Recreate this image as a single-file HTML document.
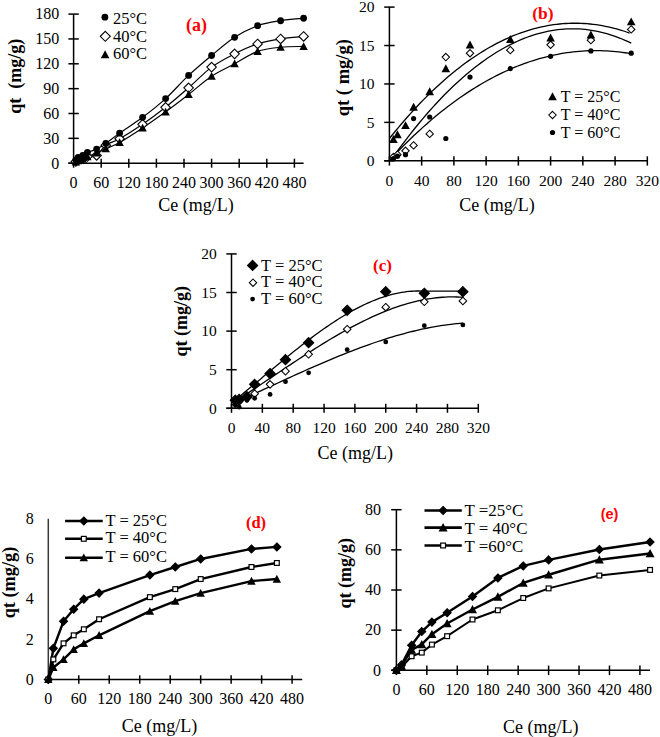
<!DOCTYPE html>
<html><head><meta charset="utf-8"><style>
html,body{margin:0;padding:0;background:#fff;}
body{width:660px;height:737px;overflow:hidden;}
svg{display:block;}
text{font-family:"Liberation Serif", serif;}
</style></head><body>
<svg width="660" height="737" viewBox="0 0 660 737">
<rect width="660" height="737" fill="#fff"/>
<line x1="73.6" y1="14.10" x2="73.6" y2="163.20" stroke="#000" stroke-width="1.5"/>
<line x1="68.40" y1="163.2" x2="303.60" y2="163.2" stroke="#000" stroke-width="1.5"/>
<line x1="73.60" y1="158.70" x2="73.60" y2="167.70" stroke="#000" stroke-width="1.5"/>
<text x="73.60" y="187.60" font-size="16" text-anchor="middle" font-weight="normal" fill="#000" >0</text>
<line x1="101.20" y1="158.70" x2="101.20" y2="167.70" stroke="#000" stroke-width="1.5"/>
<text x="101.20" y="187.60" font-size="16" text-anchor="middle" font-weight="normal" fill="#000" >60</text>
<line x1="128.80" y1="158.70" x2="128.80" y2="167.70" stroke="#000" stroke-width="1.5"/>
<text x="128.80" y="187.60" font-size="16" text-anchor="middle" font-weight="normal" fill="#000" >120</text>
<line x1="156.40" y1="158.70" x2="156.40" y2="167.70" stroke="#000" stroke-width="1.5"/>
<text x="156.40" y="187.60" font-size="16" text-anchor="middle" font-weight="normal" fill="#000" >180</text>
<line x1="184.00" y1="158.70" x2="184.00" y2="167.70" stroke="#000" stroke-width="1.5"/>
<text x="184.00" y="187.60" font-size="16" text-anchor="middle" font-weight="normal" fill="#000" >240</text>
<line x1="211.60" y1="158.70" x2="211.60" y2="167.70" stroke="#000" stroke-width="1.5"/>
<text x="211.60" y="187.60" font-size="16" text-anchor="middle" font-weight="normal" fill="#000" >300</text>
<line x1="239.20" y1="158.70" x2="239.20" y2="167.70" stroke="#000" stroke-width="1.5"/>
<text x="239.20" y="187.60" font-size="16" text-anchor="middle" font-weight="normal" fill="#000" >360</text>
<line x1="266.80" y1="158.70" x2="266.80" y2="167.70" stroke="#000" stroke-width="1.5"/>
<text x="266.80" y="187.60" font-size="16" text-anchor="middle" font-weight="normal" fill="#000" >420</text>
<line x1="294.40" y1="158.70" x2="294.40" y2="167.70" stroke="#000" stroke-width="1.5"/>
<text x="294.40" y="187.60" font-size="16" text-anchor="middle" font-weight="normal" fill="#000" >480</text>
<line x1="68.40" y1="163.20" x2="78.80" y2="163.20" stroke="#000" stroke-width="1.5"/>
<text x="59.20" y="168.50" font-size="16" text-anchor="end" font-weight="normal" fill="#000" >0</text>
<line x1="68.40" y1="138.35" x2="78.80" y2="138.35" stroke="#000" stroke-width="1.5"/>
<text x="59.20" y="143.65" font-size="16" text-anchor="end" font-weight="normal" fill="#000" >30</text>
<line x1="68.40" y1="113.50" x2="78.80" y2="113.50" stroke="#000" stroke-width="1.5"/>
<text x="59.20" y="118.80" font-size="16" text-anchor="end" font-weight="normal" fill="#000" >60</text>
<line x1="68.40" y1="88.65" x2="78.80" y2="88.65" stroke="#000" stroke-width="1.5"/>
<text x="59.20" y="93.95" font-size="16" text-anchor="end" font-weight="normal" fill="#000" >90</text>
<line x1="68.40" y1="63.80" x2="78.80" y2="63.80" stroke="#000" stroke-width="1.5"/>
<text x="59.20" y="69.10" font-size="16" text-anchor="end" font-weight="normal" fill="#000" >120</text>
<line x1="68.40" y1="38.95" x2="78.80" y2="38.95" stroke="#000" stroke-width="1.5"/>
<text x="59.20" y="44.25" font-size="16" text-anchor="end" font-weight="normal" fill="#000" >150</text>
<line x1="68.40" y1="14.10" x2="78.80" y2="14.10" stroke="#000" stroke-width="1.5"/>
<text x="59.20" y="19.40" font-size="16" text-anchor="end" font-weight="normal" fill="#000" >180</text>
<path d="M73.60,163.20 C73.98,162.65 75.13,160.85 75.90,159.89 C76.67,158.92 77.05,158.16 78.20,157.40 C79.35,156.64 81.27,156.16 82.80,155.33 C84.33,154.50 85.10,153.47 87.40,152.43 C89.70,151.40 93.53,150.61 96.60,149.12 C99.67,147.63 101.97,146.15 105.80,143.49 C109.63,140.82 113.47,137.49 119.60,133.13 C125.73,128.77 134.93,123.07 142.60,117.31 C150.27,111.55 157.93,105.58 165.60,98.59 C173.27,91.60 180.93,82.58 188.60,75.40 C196.27,68.22 203.93,61.87 211.60,55.52 C219.27,49.17 226.93,42.26 234.60,37.29 C242.27,32.32 249.93,28.46 257.60,25.70 C265.27,22.94 272.93,21.97 280.60,20.73 C288.27,19.48 299.77,18.66 303.60,18.24" fill="none" stroke="#000" stroke-width="1.2"/>
<path d="M73.60,163.20 C73.98,162.92 75.13,162.10 75.90,161.54 C76.67,160.99 77.05,160.44 78.20,159.89 C79.35,159.33 81.27,158.78 82.80,158.23 C84.33,157.68 85.10,157.03 87.40,156.57 C89.70,156.12 93.53,157.39 96.60,155.50 C99.67,153.61 101.97,148.01 105.80,145.23 C109.63,142.44 113.47,142.26 119.60,138.76 C125.73,135.27 134.93,129.51 142.60,124.27 C150.27,119.02 157.93,113.36 165.60,107.29 C173.27,101.21 180.93,94.52 188.60,87.82 C196.27,81.13 203.93,72.77 211.60,67.11 C219.27,61.45 226.93,57.73 234.60,53.86 C242.27,49.99 249.93,46.40 257.60,43.92 C265.27,41.43 272.93,40.19 280.60,38.95 C288.27,37.71 299.77,36.88 303.60,36.46" fill="none" stroke="#000" stroke-width="1.2"/>
<path d="M73.60,163.20 C73.98,162.99 75.13,162.37 75.90,161.96 C76.67,161.54 77.05,161.20 78.20,160.71 C79.35,160.23 81.27,159.75 82.80,159.06 C84.33,158.37 85.10,157.58 87.40,156.57 C89.70,155.57 93.53,154.31 96.60,153.01 C99.67,151.71 101.97,150.54 105.80,148.79 C109.63,147.03 113.47,145.96 119.60,142.49 C125.73,139.03 134.93,133.10 142.60,128.00 C150.27,122.89 157.93,117.43 165.60,111.84 C173.27,106.25 180.93,100.38 188.60,94.45 C196.27,88.51 203.93,81.33 211.60,76.22 C219.27,71.12 226.93,67.94 234.60,63.80 C242.27,59.66 249.93,54.14 257.60,51.37 C265.27,48.61 272.93,48.06 280.60,47.23 C288.27,46.40 299.77,46.54 303.60,46.40" fill="none" stroke="#000" stroke-width="1.2"/>
<path d="M75.90,156.79 L80.65,161.54 L75.90,166.29 L71.15,161.54 Z" fill="#fff" stroke="#000" stroke-width="1.1"/>
<path d="M78.20,155.14 L82.95,159.89 L78.20,164.64 L73.45,159.89 Z" fill="#fff" stroke="#000" stroke-width="1.1"/>
<path d="M82.80,153.48 L87.55,158.23 L82.80,162.98 L78.05,158.23 Z" fill="#fff" stroke="#000" stroke-width="1.1"/>
<path d="M87.40,151.82 L92.15,156.57 L87.40,161.32 L82.65,156.57 Z" fill="#fff" stroke="#000" stroke-width="1.1"/>
<path d="M96.60,150.75 L101.35,155.50 L96.60,160.25 L91.85,155.50 Z" fill="#fff" stroke="#000" stroke-width="1.1"/>
<path d="M105.80,140.48 L110.55,145.23 L105.80,149.98 L101.05,145.23 Z" fill="#fff" stroke="#000" stroke-width="1.1"/>
<path d="M119.60,134.01 L124.35,138.76 L119.60,143.51 L114.85,138.76 Z" fill="#fff" stroke="#000" stroke-width="1.1"/>
<path d="M142.60,119.52 L147.35,124.27 L142.60,129.02 L137.85,124.27 Z" fill="#fff" stroke="#000" stroke-width="1.1"/>
<path d="M165.60,102.54 L170.35,107.29 L165.60,112.04 L160.85,107.29 Z" fill="#fff" stroke="#000" stroke-width="1.1"/>
<path d="M188.60,83.07 L193.35,87.82 L188.60,92.57 L183.85,87.82 Z" fill="#fff" stroke="#000" stroke-width="1.1"/>
<path d="M211.60,62.36 L216.35,67.11 L211.60,71.86 L206.85,67.11 Z" fill="#fff" stroke="#000" stroke-width="1.1"/>
<path d="M234.60,49.11 L239.35,53.86 L234.60,58.61 L229.85,53.86 Z" fill="#fff" stroke="#000" stroke-width="1.1"/>
<path d="M257.60,39.17 L262.35,43.92 L257.60,48.67 L252.85,43.92 Z" fill="#fff" stroke="#000" stroke-width="1.1"/>
<path d="M280.60,34.20 L285.35,38.95 L280.60,43.70 L275.85,38.95 Z" fill="#fff" stroke="#000" stroke-width="1.1"/>
<path d="M303.60,31.71 L308.35,36.46 L303.60,41.21 L298.85,36.46 Z" fill="#fff" stroke="#000" stroke-width="1.1"/>
<path d="M75.90,157.76 L80.10,165.53 L71.70,165.53 Z" fill="#000"/>
<path d="M78.20,156.51 L82.40,164.28 L74.00,164.28 Z" fill="#000"/>
<path d="M82.80,154.86 L87.00,162.63 L78.60,162.63 Z" fill="#000"/>
<path d="M87.40,152.37 L91.60,160.14 L83.20,160.14 Z" fill="#000"/>
<path d="M96.60,148.81 L100.80,156.58 L92.40,156.58 Z" fill="#000"/>
<path d="M105.80,144.59 L110.00,152.36 L101.60,152.36 Z" fill="#000"/>
<path d="M119.60,138.29 L123.80,146.06 L115.40,146.06 Z" fill="#000"/>
<path d="M142.60,123.80 L146.80,131.57 L138.40,131.57 Z" fill="#000"/>
<path d="M165.60,107.64 L169.80,115.41 L161.40,115.41 Z" fill="#000"/>
<path d="M188.60,90.25 L192.80,98.02 L184.40,98.02 Z" fill="#000"/>
<path d="M211.60,72.02 L215.80,79.79 L207.40,79.79 Z" fill="#000"/>
<path d="M234.60,59.60 L238.80,67.37 L230.40,67.37 Z" fill="#000"/>
<path d="M257.60,47.17 L261.80,54.94 L253.40,54.94 Z" fill="#000"/>
<path d="M280.60,43.03 L284.80,50.80 L276.40,50.80 Z" fill="#000"/>
<path d="M303.60,42.20 L307.80,49.97 L299.40,49.97 Z" fill="#000"/>
<circle cx="75.90" cy="159.89" r="3.40" fill="#000"/>
<circle cx="78.20" cy="157.40" r="3.40" fill="#000"/>
<circle cx="82.80" cy="155.33" r="3.40" fill="#000"/>
<circle cx="87.40" cy="152.43" r="3.40" fill="#000"/>
<circle cx="96.60" cy="149.12" r="3.40" fill="#000"/>
<circle cx="105.80" cy="143.49" r="3.40" fill="#000"/>
<circle cx="119.60" cy="133.13" r="3.40" fill="#000"/>
<circle cx="142.60" cy="117.31" r="3.40" fill="#000"/>
<circle cx="165.60" cy="98.59" r="3.40" fill="#000"/>
<circle cx="188.60" cy="75.40" r="3.40" fill="#000"/>
<circle cx="211.60" cy="55.52" r="3.40" fill="#000"/>
<circle cx="234.60" cy="37.29" r="3.40" fill="#000"/>
<circle cx="257.60" cy="25.70" r="3.40" fill="#000"/>
<circle cx="280.60" cy="20.73" r="3.40" fill="#000"/>
<circle cx="303.60" cy="18.24" r="3.40" fill="#000"/>
<circle cx="104.90" cy="17.20" r="3.40" fill="#000"/>
<path d="M105.30,31.30 L110.30,36.30 L105.30,41.30 L100.30,36.30 Z" fill="#fff" stroke="#000" stroke-width="1.1"/>
<path d="M105.10,50.20 L109.40,58.16 L100.80,58.16 Z" fill="#000"/>
<text x="113.00" y="24.20" font-size="16.5" text-anchor="start" font-weight="normal" fill="#000" >25°C</text>
<text x="113.00" y="41.50" font-size="16.5" text-anchor="start" font-weight="normal" fill="#000" >40°C</text>
<text x="113.00" y="58.80" font-size="16.5" text-anchor="start" font-weight="normal" fill="#000" >60°C</text>
<text x="196.50" y="31.20" font-size="18" text-anchor="middle" font-weight="bold" fill="#ff0000" >(a)</text>
<text x="196.00" y="211.00" font-size="18" text-anchor="middle" font-weight="normal" fill="#000" >Ce (mg/L)</text>
<text x="0" y="0" font-size="18" text-anchor="middle" font-weight="bold" transform="translate(21.00,76.30) rotate(-90)">qt&#160;&#160;(mg/g)</text>
<line x1="389.4" y1="7.10" x2="389.4" y2="160.80" stroke="#000" stroke-width="1.5"/>
<line x1="384.20" y1="160.8" x2="647.32" y2="160.8" stroke="#000" stroke-width="1.5"/>
<line x1="389.40" y1="156.30" x2="389.40" y2="165.60" stroke="#000" stroke-width="1.5"/>
<text x="389.40" y="186.30" font-size="15.5" text-anchor="middle" font-weight="normal" fill="#000" >0</text>
<line x1="421.64" y1="156.30" x2="421.64" y2="165.60" stroke="#000" stroke-width="1.5"/>
<text x="421.64" y="186.30" font-size="15.5" text-anchor="middle" font-weight="normal" fill="#000" >40</text>
<line x1="453.88" y1="156.30" x2="453.88" y2="165.60" stroke="#000" stroke-width="1.5"/>
<text x="453.88" y="186.30" font-size="15.5" text-anchor="middle" font-weight="normal" fill="#000" >80</text>
<line x1="486.12" y1="156.30" x2="486.12" y2="165.60" stroke="#000" stroke-width="1.5"/>
<text x="486.12" y="186.30" font-size="15.5" text-anchor="middle" font-weight="normal" fill="#000" >120</text>
<line x1="518.36" y1="156.30" x2="518.36" y2="165.60" stroke="#000" stroke-width="1.5"/>
<text x="518.36" y="186.30" font-size="15.5" text-anchor="middle" font-weight="normal" fill="#000" >160</text>
<line x1="550.60" y1="156.30" x2="550.60" y2="165.60" stroke="#000" stroke-width="1.5"/>
<text x="550.60" y="186.30" font-size="15.5" text-anchor="middle" font-weight="normal" fill="#000" >200</text>
<line x1="582.84" y1="156.30" x2="582.84" y2="165.60" stroke="#000" stroke-width="1.5"/>
<text x="582.84" y="186.30" font-size="15.5" text-anchor="middle" font-weight="normal" fill="#000" >240</text>
<line x1="615.08" y1="156.30" x2="615.08" y2="165.60" stroke="#000" stroke-width="1.5"/>
<text x="615.08" y="186.30" font-size="15.5" text-anchor="middle" font-weight="normal" fill="#000" >280</text>
<line x1="647.32" y1="156.30" x2="647.32" y2="165.60" stroke="#000" stroke-width="1.5"/>
<text x="647.32" y="186.30" font-size="15.5" text-anchor="middle" font-weight="normal" fill="#000" >320</text>
<line x1="384.20" y1="160.80" x2="394.60" y2="160.80" stroke="#000" stroke-width="1.5"/>
<text x="374.50" y="166.10" font-size="15.5" text-anchor="end" font-weight="normal" fill="#000" >0</text>
<line x1="384.20" y1="122.38" x2="394.60" y2="122.38" stroke="#000" stroke-width="1.5"/>
<text x="374.50" y="127.68" font-size="15.5" text-anchor="end" font-weight="normal" fill="#000" >5</text>
<line x1="384.20" y1="83.95" x2="394.60" y2="83.95" stroke="#000" stroke-width="1.5"/>
<text x="374.50" y="89.25" font-size="15.5" text-anchor="end" font-weight="normal" fill="#000" >10</text>
<line x1="384.20" y1="45.53" x2="394.60" y2="45.53" stroke="#000" stroke-width="1.5"/>
<text x="374.50" y="50.83" font-size="15.5" text-anchor="end" font-weight="normal" fill="#000" >15</text>
<line x1="384.20" y1="7.10" x2="394.60" y2="7.10" stroke="#000" stroke-width="1.5"/>
<text x="374.50" y="12.40" font-size="15.5" text-anchor="end" font-weight="normal" fill="#000" >20</text>
<path d="M389.40,138.50 L392.44,134.72 L395.48,131.00 L398.52,127.35 L401.56,123.76 L404.60,120.23 L407.64,116.77 L410.68,113.38 L413.72,110.04 L416.76,106.77 L419.80,103.57 L422.84,100.42 L425.88,97.34 L428.92,94.33 L431.96,91.38 L435.01,88.49 L438.05,85.66 L441.09,82.90 L444.13,80.20 L447.17,77.57 L450.21,74.99 L453.25,72.48 L456.29,70.04 L459.33,67.65 L462.37,65.33 L465.41,63.08 L468.45,60.88 L471.49,58.75 L474.53,56.68 L477.57,54.67 L480.61,52.73 L483.65,50.85 L486.69,49.03 L489.73,47.27 L492.77,45.58 L495.81,43.94 L498.85,42.37 L501.89,40.87 L504.93,39.42 L507.97,38.04 L511.01,36.72 L514.05,35.46 L517.09,34.26 L520.14,33.13 L523.18,32.05 L526.22,31.04 L529.26,30.09 L532.30,29.20 L535.34,28.38 L538.38,27.61 L541.42,26.91 L544.46,26.27 L547.50,25.69 L550.54,25.17 L553.58,24.71 L556.62,24.32 L559.66,23.98 L562.70,23.71 L565.74,23.50 L568.78,23.34 L571.82,23.25 L574.86,23.22 L577.90,23.26 L580.94,23.35 L583.98,23.50 L587.02,23.72 L590.06,23.99 L593.10,24.33 L596.14,24.72 L599.18,25.18 L602.22,25.69 L605.27,26.27 L608.31,26.91 L611.35,27.61 L614.39,28.37 L617.43,29.18 L620.47,30.06 L623.51,31.00 L626.55,32.00 L629.59,33.06" fill="none" stroke="#000" stroke-width="1.3"/>
<path d="M389.40,160.80 L392.46,157.96 L395.52,153.69 L398.58,149.48 L401.64,145.35 L404.70,141.28 L407.76,137.29 L410.83,133.36 L413.89,129.51 L416.95,125.72 L420.01,122.01 L423.07,118.36 L426.13,114.79 L429.19,111.28 L432.25,107.85 L435.31,104.49 L438.37,101.19 L441.43,97.97 L444.49,94.82 L447.55,91.74 L450.62,88.74 L453.68,85.80 L456.74,82.94 L459.80,80.15 L462.86,77.43 L465.92,74.78 L468.98,72.21 L472.04,69.71 L475.10,67.28 L478.16,64.92 L481.22,62.64 L484.28,60.43 L487.34,58.29 L490.41,56.23 L493.47,54.24 L496.53,52.32 L499.59,50.48 L502.65,48.71 L505.71,47.01 L508.77,45.39 L511.83,43.85 L514.89,42.38 L517.95,40.98 L521.01,39.66 L524.07,38.41 L527.13,37.24 L530.19,36.15 L533.26,35.13 L536.32,34.18 L539.38,33.31 L542.44,32.52 L545.50,31.80 L548.56,31.16 L551.62,30.60 L554.68,30.11 L557.74,29.70 L560.80,29.36 L563.86,29.10 L566.92,28.92 L569.98,28.82 L573.05,28.79 L576.11,28.84 L579.17,28.97 L582.23,29.18 L585.29,29.46 L588.35,29.83 L591.41,30.27 L594.47,30.78 L597.53,31.38 L600.59,32.06 L603.65,32.81 L606.71,33.65 L609.77,34.56 L612.84,35.55 L615.90,36.62 L618.96,37.78 L622.02,39.01 L625.08,40.32 L628.14,41.71 L631.20,43.18" fill="none" stroke="#000" stroke-width="1.3"/>
<path d="M389.40,160.34 L392.46,157.07 L395.52,153.85 L398.58,150.68 L401.64,147.56 L404.70,144.49 L407.76,141.47 L410.83,138.50 L413.89,135.58 L416.95,132.71 L420.01,129.90 L423.07,127.13 L426.13,124.41 L429.19,121.74 L432.25,119.13 L435.31,116.56 L438.37,114.05 L441.43,111.58 L444.49,109.16 L447.55,106.80 L450.62,104.48 L453.68,102.21 L456.74,99.99 L459.80,97.83 L462.86,95.71 L465.92,93.64 L468.98,91.62 L472.04,89.65 L475.10,87.73 L478.16,85.86 L481.22,84.03 L484.28,82.26 L487.34,80.53 L490.41,78.86 L493.47,77.23 L496.53,75.66 L499.59,74.13 L502.65,72.65 L505.71,71.22 L508.77,69.83 L511.83,68.50 L514.89,67.21 L517.95,65.98 L521.01,64.79 L524.07,63.65 L527.13,62.56 L530.19,61.51 L533.26,60.52 L536.32,59.57 L539.38,58.67 L542.44,57.82 L545.50,57.02 L548.56,56.26 L551.62,55.55 L554.68,54.89 L557.74,54.28 L560.80,53.71 L563.86,53.20 L566.92,52.73 L569.98,52.31 L573.05,51.93 L576.11,51.60 L579.17,51.32 L582.23,51.09 L585.29,50.90 L588.35,50.77 L591.41,50.67 L594.47,50.63 L597.53,50.63 L600.59,50.68 L603.65,50.78 L606.71,50.92 L609.77,51.11 L612.84,51.34 L615.90,51.63 L618.96,51.96 L622.02,52.33 L625.08,52.75 L628.14,53.22 L631.20,53.73" fill="none" stroke="#000" stroke-width="1.3"/>
<path d="M393.43,153.26 L397.13,156.96 L393.43,160.66 L389.73,156.96 Z" fill="#fff" stroke="#000" stroke-width="1.05"/>
<path d="M397.46,150.95 L401.16,154.65 L397.46,158.35 L393.76,154.65 Z" fill="#fff" stroke="#000" stroke-width="1.05"/>
<path d="M405.52,147.11 L409.22,150.81 L405.52,154.51 L401.82,150.81 Z" fill="#fff" stroke="#000" stroke-width="1.05"/>
<path d="M413.58,141.73 L417.28,145.43 L413.58,149.13 L409.88,145.43 Z" fill="#fff" stroke="#000" stroke-width="1.05"/>
<path d="M429.70,130.20 L433.40,133.90 L429.70,137.60 L426.00,133.90 Z" fill="#fff" stroke="#000" stroke-width="1.05"/>
<path d="M445.82,53.35 L449.52,57.05 L445.82,60.75 L442.12,57.05 Z" fill="#fff" stroke="#000" stroke-width="1.05"/>
<path d="M470.00,49.51 L473.70,53.21 L470.00,56.91 L466.30,53.21 Z" fill="#fff" stroke="#000" stroke-width="1.05"/>
<path d="M510.30,46.44 L514.00,50.14 L510.30,53.84 L506.60,50.14 Z" fill="#fff" stroke="#000" stroke-width="1.05"/>
<path d="M550.60,41.06 L554.30,44.76 L550.60,48.46 L546.90,44.76 Z" fill="#fff" stroke="#000" stroke-width="1.05"/>
<path d="M590.90,36.45 L594.60,40.15 L590.90,43.85 L587.20,40.15 Z" fill="#fff" stroke="#000" stroke-width="1.05"/>
<path d="M631.20,25.69 L634.90,29.39 L631.20,33.09 L627.50,29.39 Z" fill="#fff" stroke="#000" stroke-width="1.05"/>
<path d="M393.43,134.98 L397.73,142.94 L389.13,142.94 Z" fill="#000"/>
<path d="M397.46,130.37 L401.76,138.33 L393.16,138.33 Z" fill="#000"/>
<path d="M405.52,121.15 L409.82,129.10 L401.22,129.10 Z" fill="#000"/>
<path d="M413.58,102.71 L417.88,110.66 L409.28,110.66 Z" fill="#000"/>
<path d="M429.70,87.34 L434.00,95.29 L425.40,95.29 Z" fill="#000"/>
<path d="M445.82,64.28 L450.12,72.24 L441.52,72.24 Z" fill="#000"/>
<path d="M470.00,40.46 L474.30,48.41 L465.70,48.41 Z" fill="#000"/>
<path d="M510.30,35.08 L514.60,43.03 L506.00,43.03 Z" fill="#000"/>
<path d="M550.60,33.54 L554.90,41.50 L546.30,41.50 Z" fill="#000"/>
<path d="M590.90,30.47 L595.20,38.42 L586.60,38.42 Z" fill="#000"/>
<path d="M631.20,17.40 L635.50,25.36 L626.90,25.36 Z" fill="#000"/>
<circle cx="393.43" cy="158.49" r="2.60" fill="#000"/>
<circle cx="397.46" cy="156.19" r="2.60" fill="#000"/>
<circle cx="405.52" cy="154.65" r="2.60" fill="#000"/>
<circle cx="413.58" cy="118.53" r="2.60" fill="#000"/>
<circle cx="429.70" cy="117.00" r="2.60" fill="#000"/>
<circle cx="445.82" cy="138.51" r="2.60" fill="#000"/>
<circle cx="470.00" cy="77.03" r="2.60" fill="#000"/>
<circle cx="510.30" cy="68.58" r="2.60" fill="#000"/>
<circle cx="550.60" cy="56.28" r="2.60" fill="#000"/>
<circle cx="590.90" cy="50.90" r="2.60" fill="#000"/>
<circle cx="631.20" cy="53.21" r="2.60" fill="#000"/>
<path d="M552.50,92.20 L556.80,100.16 L548.20,100.16 Z" fill="#000"/>
<path d="M552.50,111.30 L556.20,115.00 L552.50,118.70 L548.80,115.00 Z" fill="#fff" stroke="#000" stroke-width="1.05"/>
<circle cx="552.50" cy="132.50" r="2.60" fill="#000"/>
<text x="560.80" y="102.00" font-size="16" text-anchor="start" font-weight="normal" fill="#000" >T = 25°C</text>
<text x="560.80" y="120.00" font-size="16" text-anchor="start" font-weight="normal" fill="#000" >T = 40°C</text>
<text x="560.80" y="138.00" font-size="16" text-anchor="start" font-weight="normal" fill="#000" >T = 60°C</text>
<text x="543.00" y="19.00" font-size="17.5" text-anchor="middle" font-weight="bold" fill="#ff0000" >(b)</text>
<text x="497.00" y="210.50" font-size="18" text-anchor="middle" font-weight="normal" fill="#000" >Ce (mg/L)</text>
<text x="0" y="0" font-size="18.5" text-anchor="middle" font-weight="bold" transform="translate(348.50,77.70) rotate(-90)">qt ( mg/g)</text>
<line x1="231.5" y1="253.90" x2="231.5" y2="408.30" stroke="#000" stroke-width="1.5"/>
<line x1="226.30" y1="408.3" x2="478.30" y2="408.3" stroke="#000" stroke-width="1.5"/>
<line x1="231.50" y1="403.80" x2="231.50" y2="412.80" stroke="#000" stroke-width="1.5"/>
<text x="231.50" y="433.30" font-size="15.5" text-anchor="middle" font-weight="normal" fill="#000" >0</text>
<line x1="262.35" y1="403.80" x2="262.35" y2="412.80" stroke="#000" stroke-width="1.5"/>
<text x="262.35" y="433.30" font-size="15.5" text-anchor="middle" font-weight="normal" fill="#000" >40</text>
<line x1="293.20" y1="403.80" x2="293.20" y2="412.80" stroke="#000" stroke-width="1.5"/>
<text x="293.20" y="433.30" font-size="15.5" text-anchor="middle" font-weight="normal" fill="#000" >80</text>
<line x1="324.05" y1="403.80" x2="324.05" y2="412.80" stroke="#000" stroke-width="1.5"/>
<text x="324.05" y="433.30" font-size="15.5" text-anchor="middle" font-weight="normal" fill="#000" >120</text>
<line x1="354.90" y1="403.80" x2="354.90" y2="412.80" stroke="#000" stroke-width="1.5"/>
<text x="354.90" y="433.30" font-size="15.5" text-anchor="middle" font-weight="normal" fill="#000" >160</text>
<line x1="385.75" y1="403.80" x2="385.75" y2="412.80" stroke="#000" stroke-width="1.5"/>
<text x="385.75" y="433.30" font-size="15.5" text-anchor="middle" font-weight="normal" fill="#000" >200</text>
<line x1="416.60" y1="403.80" x2="416.60" y2="412.80" stroke="#000" stroke-width="1.5"/>
<text x="416.60" y="433.30" font-size="15.5" text-anchor="middle" font-weight="normal" fill="#000" >240</text>
<line x1="447.45" y1="403.80" x2="447.45" y2="412.80" stroke="#000" stroke-width="1.5"/>
<text x="447.45" y="433.30" font-size="15.5" text-anchor="middle" font-weight="normal" fill="#000" >280</text>
<line x1="478.30" y1="403.80" x2="478.30" y2="412.80" stroke="#000" stroke-width="1.5"/>
<text x="478.30" y="433.30" font-size="15.5" text-anchor="middle" font-weight="normal" fill="#000" >320</text>
<line x1="226.30" y1="408.30" x2="236.70" y2="408.30" stroke="#000" stroke-width="1.5"/>
<text x="216.80" y="413.60" font-size="15.5" text-anchor="end" font-weight="normal" fill="#000" >0</text>
<line x1="226.30" y1="369.70" x2="236.70" y2="369.70" stroke="#000" stroke-width="1.5"/>
<text x="216.80" y="375.00" font-size="15.5" text-anchor="end" font-weight="normal" fill="#000" >5</text>
<line x1="226.30" y1="331.10" x2="236.70" y2="331.10" stroke="#000" stroke-width="1.5"/>
<text x="216.80" y="336.40" font-size="15.5" text-anchor="end" font-weight="normal" fill="#000" >10</text>
<line x1="226.30" y1="292.50" x2="236.70" y2="292.50" stroke="#000" stroke-width="1.5"/>
<text x="216.80" y="297.80" font-size="15.5" text-anchor="end" font-weight="normal" fill="#000" >15</text>
<line x1="226.30" y1="253.90" x2="236.70" y2="253.90" stroke="#000" stroke-width="1.5"/>
<text x="216.80" y="259.20" font-size="15.5" text-anchor="end" font-weight="normal" fill="#000" >20</text>
<path d="M231.50,403.10 L233.93,401.13 L236.36,399.14 L238.79,397.14 L241.22,395.13 L243.65,393.12 L246.09,391.10 L248.52,389.07 L250.95,387.04 L253.38,385.01 L255.81,382.97 L258.24,380.93 L260.67,378.89 L263.10,376.86 L265.53,374.82 L267.96,372.78 L270.39,370.75 L272.83,368.72 L275.26,366.70 L277.69,364.69 L280.12,362.68 L282.55,360.67 L284.98,358.68 L287.41,356.70 L289.84,354.73 L292.27,352.77 L294.70,350.82 L297.13,348.89 L299.57,346.97 L302.00,345.07 L304.43,343.18 L306.86,341.31 L309.29,339.46 L311.72,337.63 L314.15,335.82 L316.58,334.03 L319.01,332.27 L321.44,330.52 L323.87,328.80 L326.31,327.11 L328.74,325.44 L331.17,323.80 L333.60,322.19 L336.03,320.61 L338.46,319.06 L340.89,317.54 L343.32,316.05 L345.75,314.59 L348.18,313.17 L350.61,311.78 L353.05,310.43 L355.48,309.11 L357.91,307.84 L360.34,306.60 L362.77,305.40 L365.20,304.24 L367.63,303.13 L370.06,302.05 L372.49,301.02 L374.92,300.04 L377.35,299.10 L379.79,298.20 L382.22,297.36 L384.65,296.56 L387.08,295.81 L389.51,295.11 L391.94,294.46 L394.37,293.87 L396.80,293.33 L399.23,292.84 L401.66,292.41 L404.09,292.03 L406.52,291.71 L408.96,291.45 L411.39,291.25 L413.82,291.10 L416.25,291.02 L418.68,291.00 L421.11,291.04 L423.54,291.15 L462.88,291.15" fill="none" stroke="#000" stroke-width="1.3"/>
<path d="M231.50,403.88 L234.43,401.98 L237.36,400.07 L240.29,398.15 L243.22,396.22 L246.14,394.29 L249.07,392.34 L252.00,390.39 L254.93,388.43 L257.86,386.47 L260.79,384.50 L263.72,382.53 L266.65,380.56 L269.57,378.59 L272.50,376.62 L275.43,374.65 L278.36,372.68 L281.29,370.72 L284.22,368.76 L287.15,366.80 L290.08,364.85 L293.00,362.91 L295.93,360.98 L298.86,359.06 L301.79,357.14 L304.72,355.24 L307.65,353.35 L310.58,351.48 L313.51,349.62 L316.44,347.77 L319.36,345.94 L322.29,344.13 L325.22,342.33 L328.15,340.56 L331.08,338.80 L334.01,337.07 L336.94,335.36 L339.87,333.68 L342.79,332.01 L345.72,330.38 L348.65,328.77 L351.58,327.18 L354.51,325.63 L357.44,324.10 L360.37,322.61 L363.30,321.15 L366.22,319.72 L369.15,318.32 L372.08,316.96 L375.01,315.63 L377.94,314.34 L380.87,313.09 L383.80,311.88 L386.73,310.70 L389.66,309.57 L392.58,308.47 L395.51,307.42 L398.44,306.42 L401.37,305.46 L404.30,304.54 L407.23,303.67 L410.16,302.85 L413.09,302.08 L416.01,301.35 L418.94,300.68 L421.87,300.06 L424.80,299.49 L427.73,298.98 L430.66,298.52 L433.59,298.11 L436.52,297.77 L439.44,297.48 L442.37,297.24 L445.30,297.07 L448.23,296.96 L451.16,296.91 L454.09,296.93 L457.02,297.00 L459.95,297.15 L462.88,297.35" fill="none" stroke="#000" stroke-width="1.3"/>
<path d="M231.50,404.17 L234.43,402.85 L237.36,401.53 L240.29,400.20 L243.22,398.87 L246.14,397.53 L249.07,396.19 L252.00,394.85 L254.93,393.50 L257.86,392.16 L260.79,390.81 L263.72,389.46 L266.65,388.11 L269.57,386.76 L272.50,385.41 L275.43,384.06 L278.36,382.72 L281.29,381.37 L284.22,380.03 L287.15,378.69 L290.08,377.36 L293.00,376.03 L295.93,374.70 L298.86,373.38 L301.79,372.07 L304.72,370.76 L307.65,369.45 L310.58,368.16 L313.51,366.87 L316.44,365.59 L319.36,364.32 L322.29,363.06 L325.22,361.81 L328.15,360.57 L331.08,359.34 L334.01,358.12 L336.94,356.91 L339.87,355.71 L342.79,354.53 L345.72,353.36 L348.65,352.20 L351.58,351.06 L354.51,349.93 L357.44,348.82 L360.37,347.72 L363.30,346.64 L366.22,345.58 L369.15,344.54 L372.08,343.51 L375.01,342.50 L377.94,341.50 L380.87,340.53 L383.80,339.58 L386.73,338.65 L389.66,337.74 L392.58,336.85 L395.51,335.98 L398.44,335.13 L401.37,334.31 L404.30,333.51 L407.23,332.73 L410.16,331.98 L413.09,331.25 L416.01,330.55 L418.94,329.88 L421.87,329.23 L424.80,328.60 L427.73,328.01 L430.66,327.44 L433.59,326.90 L436.52,326.39 L439.44,325.91 L442.37,325.46 L445.30,325.04 L448.23,324.65 L451.16,324.29 L454.09,323.96 L457.02,323.67 L459.95,323.41 L462.88,323.18" fill="none" stroke="#000" stroke-width="1.3"/>
<path d="M235.36,399.87 L239.16,403.67 L235.36,407.47 L231.56,403.67 Z" fill="#fff" stroke="#000" stroke-width="1.05"/>
<path d="M239.21,397.55 L243.01,401.35 L239.21,405.15 L235.41,401.35 Z" fill="#fff" stroke="#000" stroke-width="1.05"/>
<path d="M246.93,394.46 L250.73,398.26 L246.93,402.06 L243.12,398.26 Z" fill="#fff" stroke="#000" stroke-width="1.05"/>
<path d="M254.64,389.83 L258.44,393.63 L254.64,397.43 L250.84,393.63 Z" fill="#fff" stroke="#000" stroke-width="1.05"/>
<path d="M270.06,380.57 L273.86,384.37 L270.06,388.17 L266.26,384.37 Z" fill="#fff" stroke="#000" stroke-width="1.05"/>
<path d="M285.49,367.44 L289.29,371.24 L285.49,375.04 L281.69,371.24 Z" fill="#fff" stroke="#000" stroke-width="1.05"/>
<path d="M308.62,350.46 L312.43,354.26 L308.62,358.06 L304.82,354.26 Z" fill="#fff" stroke="#000" stroke-width="1.05"/>
<path d="M347.19,325.37 L350.99,329.17 L347.19,332.97 L343.39,329.17 Z" fill="#fff" stroke="#000" stroke-width="1.05"/>
<path d="M385.75,303.37 L389.55,307.17 L385.75,310.97 L381.95,307.17 Z" fill="#fff" stroke="#000" stroke-width="1.05"/>
<path d="M424.31,297.96 L428.11,301.76 L424.31,305.56 L420.51,301.76 Z" fill="#fff" stroke="#000" stroke-width="1.05"/>
<path d="M462.88,297.19 L466.68,300.99 L462.88,304.79 L459.07,300.99 Z" fill="#fff" stroke="#000" stroke-width="1.05"/>
<path d="M235.36,395.09 L240.46,400.19 L235.36,405.29 L230.26,400.19 Z" fill="#000" stroke="#000" stroke-width="1.1"/>
<path d="M239.21,394.32 L244.31,399.42 L239.21,404.52 L234.11,399.42 Z" fill="#000" stroke="#000" stroke-width="1.1"/>
<path d="M246.93,391.62 L252.03,396.72 L246.93,401.82 L241.83,396.72 Z" fill="#000" stroke="#000" stroke-width="1.1"/>
<path d="M254.64,379.27 L259.74,384.37 L254.64,389.47 L249.54,384.37 Z" fill="#000" stroke="#000" stroke-width="1.1"/>
<path d="M270.06,368.46 L275.16,373.56 L270.06,378.66 L264.96,373.56 Z" fill="#000" stroke="#000" stroke-width="1.1"/>
<path d="M285.49,354.56 L290.59,359.66 L285.49,364.76 L280.39,359.66 Z" fill="#000" stroke="#000" stroke-width="1.1"/>
<path d="M308.62,337.58 L313.73,342.68 L308.62,347.78 L303.52,342.68 Z" fill="#000" stroke="#000" stroke-width="1.1"/>
<path d="M347.19,305.16 L352.29,310.26 L347.19,315.36 L342.09,310.26 Z" fill="#000" stroke="#000" stroke-width="1.1"/>
<path d="M385.75,286.63 L390.85,291.73 L385.75,296.83 L380.65,291.73 Z" fill="#000" stroke="#000" stroke-width="1.1"/>
<path d="M424.31,288.17 L429.41,293.27 L424.31,298.37 L419.21,293.27 Z" fill="#000" stroke="#000" stroke-width="1.1"/>
<path d="M462.88,286.63 L467.98,291.73 L462.88,296.83 L457.77,291.73 Z" fill="#000" stroke="#000" stroke-width="1.1"/>
<circle cx="235.36" cy="404.83" r="2.40" fill="#000"/>
<circle cx="239.21" cy="407.14" r="2.40" fill="#000"/>
<circle cx="246.93" cy="400.27" r="2.40" fill="#000"/>
<circle cx="254.64" cy="398.26" r="2.40" fill="#000"/>
<circle cx="270.06" cy="394.40" r="2.40" fill="#000"/>
<circle cx="285.49" cy="381.67" r="2.40" fill="#000"/>
<circle cx="308.62" cy="372.79" r="2.40" fill="#000"/>
<circle cx="347.19" cy="349.63" r="2.40" fill="#000"/>
<circle cx="385.75" cy="341.91" r="2.40" fill="#000"/>
<circle cx="424.31" cy="325.70" r="2.40" fill="#000"/>
<circle cx="462.88" cy="324.92" r="2.40" fill="#000"/>
<path d="M252.60,260.30 L257.70,265.40 L252.60,270.50 L247.50,265.40 Z" fill="#000" stroke="#000" stroke-width="1.1"/>
<path d="M253.00,279.00 L256.70,282.70 L253.00,286.40 L249.30,282.70 Z" fill="#fff" stroke="#000" stroke-width="1.05"/>
<circle cx="252.60" cy="299.10" r="2.40" fill="#000"/>
<text x="261.10" y="270.70" font-size="16.5" text-anchor="start" font-weight="normal" fill="#000" >T = 25°C</text>
<text x="261.10" y="287.30" font-size="16.5" text-anchor="start" font-weight="normal" fill="#000" >T = 40°C</text>
<text x="261.10" y="303.90" font-size="16.5" text-anchor="start" font-weight="normal" fill="#000" >T = 60°C</text>
<text x="382.50" y="271.30" font-size="17" text-anchor="middle" font-weight="bold" fill="#ff0000" >(c)</text>
<text x="355.30" y="458.50" font-size="18" text-anchor="middle" font-weight="normal" fill="#000" >Ce (mg/L)</text>
<text x="0" y="0" font-size="18" text-anchor="middle" font-weight="bold" transform="translate(186.50,321.30) rotate(-90)">qt (mg/g)</text>
<line x1="48.3" y1="518.80" x2="48.3" y2="679.50" stroke="#3a3a3a" stroke-width="1.5"/>
<line x1="48.30" y1="679.5" x2="302.25" y2="679.5" stroke="#000" stroke-width="1.5"/>
<line x1="48.30" y1="675.30" x2="48.30" y2="683.70" stroke="#000" stroke-width="1.5"/>
<text x="48.30" y="703.80" font-size="16" text-anchor="middle" font-weight="normal" fill="#000" >0</text>
<line x1="78.77" y1="675.30" x2="78.77" y2="683.70" stroke="#000" stroke-width="1.5"/>
<text x="78.77" y="703.80" font-size="16" text-anchor="middle" font-weight="normal" fill="#000" >60</text>
<line x1="109.25" y1="675.30" x2="109.25" y2="683.70" stroke="#000" stroke-width="1.5"/>
<text x="109.25" y="703.80" font-size="16" text-anchor="middle" font-weight="normal" fill="#000" >120</text>
<line x1="139.72" y1="675.30" x2="139.72" y2="683.70" stroke="#000" stroke-width="1.5"/>
<text x="139.72" y="703.80" font-size="16" text-anchor="middle" font-weight="normal" fill="#000" >180</text>
<line x1="170.20" y1="675.30" x2="170.20" y2="683.70" stroke="#000" stroke-width="1.5"/>
<text x="170.20" y="703.80" font-size="16" text-anchor="middle" font-weight="normal" fill="#000" >240</text>
<line x1="200.67" y1="675.30" x2="200.67" y2="683.70" stroke="#000" stroke-width="1.5"/>
<text x="200.67" y="703.80" font-size="16" text-anchor="middle" font-weight="normal" fill="#000" >300</text>
<line x1="231.14" y1="675.30" x2="231.14" y2="683.70" stroke="#000" stroke-width="1.5"/>
<text x="231.14" y="703.80" font-size="16" text-anchor="middle" font-weight="normal" fill="#000" >360</text>
<line x1="261.62" y1="675.30" x2="261.62" y2="683.70" stroke="#000" stroke-width="1.5"/>
<text x="261.62" y="703.80" font-size="16" text-anchor="middle" font-weight="normal" fill="#000" >420</text>
<line x1="292.09" y1="675.30" x2="292.09" y2="683.70" stroke="#000" stroke-width="1.5"/>
<text x="292.09" y="703.80" font-size="16" text-anchor="middle" font-weight="normal" fill="#000" >480</text>
<text x="33.80" y="684.80" font-size="16" text-anchor="end" font-weight="normal" fill="#000" >0</text>
<text x="33.80" y="644.62" font-size="16" text-anchor="end" font-weight="normal" fill="#000" >2</text>
<text x="33.80" y="604.45" font-size="16" text-anchor="end" font-weight="normal" fill="#000" >4</text>
<text x="33.80" y="564.27" font-size="16" text-anchor="end" font-weight="normal" fill="#000" >6</text>
<text x="33.80" y="524.10" font-size="16" text-anchor="end" font-weight="normal" fill="#000" >8</text>
<path d="M48.30,679.50 L53.38,648.36 L63.54,621.25 L73.69,609.19 L83.85,599.15 L99.09,593.12 L149.88,575.04 L175.28,567.01 L200.67,558.98 L251.46,548.93 L276.86,546.92" fill="none" stroke="#000" stroke-width="2.4" stroke-linejoin="round"/>
<path d="M48.30,675.50 L52.30,679.50 L48.30,683.50 L44.30,679.50 Z" fill="#000" stroke="#000" stroke-width="1.1"/>
<path d="M53.38,644.36 L57.38,648.36 L53.38,652.36 L49.38,648.36 Z" fill="#000" stroke="#000" stroke-width="1.1"/>
<path d="M63.54,617.25 L67.54,621.25 L63.54,625.25 L59.54,621.25 Z" fill="#000" stroke="#000" stroke-width="1.1"/>
<path d="M73.69,605.19 L77.69,609.19 L73.69,613.19 L69.69,609.19 Z" fill="#000" stroke="#000" stroke-width="1.1"/>
<path d="M83.85,595.15 L87.85,599.15 L83.85,603.15 L79.85,599.15 Z" fill="#000" stroke="#000" stroke-width="1.1"/>
<path d="M99.09,589.12 L103.09,593.12 L99.09,597.12 L95.09,593.12 Z" fill="#000" stroke="#000" stroke-width="1.1"/>
<path d="M149.88,571.04 L153.88,575.04 L149.88,579.04 L145.88,575.04 Z" fill="#000" stroke="#000" stroke-width="1.1"/>
<path d="M175.28,563.01 L179.28,567.01 L175.28,571.01 L171.28,567.01 Z" fill="#000" stroke="#000" stroke-width="1.1"/>
<path d="M200.67,554.98 L204.67,558.98 L200.67,562.98 L196.67,558.98 Z" fill="#000" stroke="#000" stroke-width="1.1"/>
<path d="M251.46,544.93 L255.46,548.93 L251.46,552.93 L247.46,548.93 Z" fill="#000" stroke="#000" stroke-width="1.1"/>
<path d="M276.86,542.92 L280.86,546.92 L276.86,550.92 L272.86,546.92 Z" fill="#000" stroke="#000" stroke-width="1.1"/>
<path d="M48.30,679.50 L53.38,659.41 L63.54,643.34 L73.69,635.31 L83.85,629.28 L99.09,619.24 L149.88,597.14 L175.28,589.11 L200.67,579.06 L251.46,567.01 L276.86,562.99" fill="none" stroke="#000" stroke-width="2.4" stroke-linejoin="round"/>
<rect x="45.90" y="677.10" width="4.80" height="4.80" fill="#fff" stroke="#000" stroke-width="1.2"/>
<rect x="50.98" y="657.01" width="4.80" height="4.80" fill="#fff" stroke="#000" stroke-width="1.2"/>
<rect x="61.14" y="640.94" width="4.80" height="4.80" fill="#fff" stroke="#000" stroke-width="1.2"/>
<rect x="71.29" y="632.91" width="4.80" height="4.80" fill="#fff" stroke="#000" stroke-width="1.2"/>
<rect x="81.45" y="626.88" width="4.80" height="4.80" fill="#fff" stroke="#000" stroke-width="1.2"/>
<rect x="96.69" y="616.84" width="4.80" height="4.80" fill="#fff" stroke="#000" stroke-width="1.2"/>
<rect x="147.48" y="594.74" width="4.80" height="4.80" fill="#fff" stroke="#000" stroke-width="1.2"/>
<rect x="172.88" y="586.71" width="4.80" height="4.80" fill="#fff" stroke="#000" stroke-width="1.2"/>
<rect x="198.27" y="576.66" width="4.80" height="4.80" fill="#fff" stroke="#000" stroke-width="1.2"/>
<rect x="249.06" y="564.61" width="4.80" height="4.80" fill="#fff" stroke="#000" stroke-width="1.2"/>
<rect x="274.46" y="560.59" width="4.80" height="4.80" fill="#fff" stroke="#000" stroke-width="1.2"/>
<path d="M48.30,679.50 L53.38,667.45 L63.54,659.41 L73.69,649.37 L83.85,643.34 L99.09,635.31 L149.88,611.20 L175.28,601.16 L200.67,593.12 L251.46,581.07 L276.86,579.06" fill="none" stroke="#000" stroke-width="2.4" stroke-linejoin="round"/>
<path d="M48.30,675.30 L52.50,683.07 L44.10,683.07 Z" fill="#000"/>
<path d="M53.38,663.25 L57.58,671.02 L49.18,671.02 Z" fill="#000"/>
<path d="M63.54,655.21 L67.74,662.98 L59.34,662.98 Z" fill="#000"/>
<path d="M73.69,645.17 L77.89,652.94 L69.49,652.94 Z" fill="#000"/>
<path d="M83.85,639.14 L88.05,646.91 L79.65,646.91 Z" fill="#000"/>
<path d="M99.09,631.11 L103.29,638.88 L94.89,638.88 Z" fill="#000"/>
<path d="M149.88,607.00 L154.08,614.77 L145.68,614.77 Z" fill="#000"/>
<path d="M175.28,596.96 L179.47,604.73 L171.08,604.73 Z" fill="#000"/>
<path d="M200.67,588.92 L204.87,596.69 L196.47,596.69 Z" fill="#000"/>
<path d="M251.46,576.87 L255.66,584.64 L247.26,584.64 Z" fill="#000"/>
<path d="M276.86,574.86 L281.06,582.63 L272.66,582.63 Z" fill="#000"/>
<line x1="65.1" y1="521" x2="102.7" y2="521" stroke="#000" stroke-width="2.6"/>
<path d="M83.80,517.00 L87.80,521.00 L83.80,525.00 L79.80,521.00 Z" fill="#000" stroke="#000" stroke-width="1.1"/>
<line x1="65.1" y1="538.8" x2="102.7" y2="538.8" stroke="#000" stroke-width="2.6"/>
<rect x="81.40" y="536.40" width="4.80" height="4.80" fill="#fff" stroke="#000" stroke-width="1.2"/>
<line x1="65.1" y1="557.7" x2="102.7" y2="557.7" stroke="#000" stroke-width="2.6"/>
<path d="M83.80,553.50 L88.00,561.27 L79.60,561.27 Z" fill="#000"/>
<text x="105.50" y="525.50" font-size="16.5" text-anchor="start" font-weight="normal" fill="#000" >T = 25°C</text>
<text x="105.50" y="543.30" font-size="16.5" text-anchor="start" font-weight="normal" fill="#000" >T = 40°C</text>
<text x="105.50" y="562.20" font-size="16.5" text-anchor="start" font-weight="normal" fill="#000" >T = 60°C</text>
<text x="256.00" y="527.50" font-size="16.5" text-anchor="middle" font-weight="bold" fill="#ff0000" >(d)</text>
<text x="159.40" y="732.30" font-size="18" text-anchor="middle" font-weight="normal" fill="#000" >Ce (mg/L)</text>
<text x="0" y="0" font-size="18.3" text-anchor="middle" font-weight="bold" transform="translate(14.50,582.50) rotate(-90)">qt (mg/g)</text>
<line x1="396.4" y1="509.70" x2="396.4" y2="670.30" stroke="#000" stroke-width="1.5"/>
<line x1="391.20" y1="670.3" x2="650.07" y2="670.3" stroke="#000" stroke-width="1.5"/>
<line x1="396.40" y1="665.50" x2="396.40" y2="675.10" stroke="#000" stroke-width="1.5"/>
<text x="396.40" y="694.50" font-size="16" text-anchor="middle" font-weight="normal" fill="#000" >0</text>
<line x1="426.84" y1="665.50" x2="426.84" y2="675.10" stroke="#000" stroke-width="1.5"/>
<text x="426.84" y="694.50" font-size="16" text-anchor="middle" font-weight="normal" fill="#000" >60</text>
<line x1="457.28" y1="665.50" x2="457.28" y2="675.10" stroke="#000" stroke-width="1.5"/>
<text x="457.28" y="694.50" font-size="16" text-anchor="middle" font-weight="normal" fill="#000" >120</text>
<line x1="487.72" y1="665.50" x2="487.72" y2="675.10" stroke="#000" stroke-width="1.5"/>
<text x="487.72" y="694.50" font-size="16" text-anchor="middle" font-weight="normal" fill="#000" >180</text>
<line x1="518.16" y1="665.50" x2="518.16" y2="675.10" stroke="#000" stroke-width="1.5"/>
<text x="518.16" y="694.50" font-size="16" text-anchor="middle" font-weight="normal" fill="#000" >240</text>
<line x1="548.60" y1="665.50" x2="548.60" y2="675.10" stroke="#000" stroke-width="1.5"/>
<text x="548.60" y="694.50" font-size="16" text-anchor="middle" font-weight="normal" fill="#000" >300</text>
<line x1="579.04" y1="665.50" x2="579.04" y2="675.10" stroke="#000" stroke-width="1.5"/>
<text x="579.04" y="694.50" font-size="16" text-anchor="middle" font-weight="normal" fill="#000" >360</text>
<line x1="609.48" y1="665.50" x2="609.48" y2="675.10" stroke="#000" stroke-width="1.5"/>
<text x="609.48" y="694.50" font-size="16" text-anchor="middle" font-weight="normal" fill="#000" >420</text>
<line x1="639.92" y1="665.50" x2="639.92" y2="675.10" stroke="#000" stroke-width="1.5"/>
<text x="639.92" y="694.50" font-size="16" text-anchor="middle" font-weight="normal" fill="#000" >480</text>
<line x1="391.20" y1="670.30" x2="401.60" y2="670.30" stroke="#000" stroke-width="1.5"/>
<text x="381.00" y="675.60" font-size="16" text-anchor="end" font-weight="normal" fill="#000" >0</text>
<line x1="391.20" y1="630.15" x2="401.60" y2="630.15" stroke="#000" stroke-width="1.5"/>
<text x="381.00" y="635.45" font-size="16" text-anchor="end" font-weight="normal" fill="#000" >20</text>
<line x1="391.20" y1="590.00" x2="401.60" y2="590.00" stroke="#000" stroke-width="1.5"/>
<text x="381.00" y="595.30" font-size="16" text-anchor="end" font-weight="normal" fill="#000" >40</text>
<line x1="391.20" y1="549.85" x2="401.60" y2="549.85" stroke="#000" stroke-width="1.5"/>
<text x="381.00" y="555.15" font-size="16" text-anchor="end" font-weight="normal" fill="#000" >60</text>
<line x1="391.20" y1="509.70" x2="401.60" y2="509.70" stroke="#000" stroke-width="1.5"/>
<text x="381.00" y="515.00" font-size="16" text-anchor="end" font-weight="normal" fill="#000" >80</text>
<path d="M396.40,670.30 L401.47,667.29 L411.62,656.25 L421.77,652.63 L431.91,644.60 L447.13,636.17 L472.50,619.51 L497.87,610.28 L523.23,598.03 L548.60,588.39 L599.33,575.55 L650.07,569.92" fill="none" stroke="#000" stroke-width="2.0" stroke-linejoin="round"/>
<rect x="394.00" y="667.90" width="4.80" height="4.80" fill="#fff" stroke="#000" stroke-width="1.2"/>
<rect x="399.07" y="664.89" width="4.80" height="4.80" fill="#fff" stroke="#000" stroke-width="1.2"/>
<rect x="409.22" y="653.85" width="4.80" height="4.80" fill="#fff" stroke="#000" stroke-width="1.2"/>
<rect x="419.37" y="650.23" width="4.80" height="4.80" fill="#fff" stroke="#000" stroke-width="1.2"/>
<rect x="429.51" y="642.20" width="4.80" height="4.80" fill="#fff" stroke="#000" stroke-width="1.2"/>
<rect x="444.73" y="633.77" width="4.80" height="4.80" fill="#fff" stroke="#000" stroke-width="1.2"/>
<rect x="470.10" y="617.11" width="4.80" height="4.80" fill="#fff" stroke="#000" stroke-width="1.2"/>
<rect x="495.47" y="607.88" width="4.80" height="4.80" fill="#fff" stroke="#000" stroke-width="1.2"/>
<rect x="520.83" y="595.63" width="4.80" height="4.80" fill="#fff" stroke="#000" stroke-width="1.2"/>
<rect x="546.20" y="585.99" width="4.80" height="4.80" fill="#fff" stroke="#000" stroke-width="1.2"/>
<rect x="596.93" y="573.15" width="4.80" height="4.80" fill="#fff" stroke="#000" stroke-width="1.2"/>
<rect x="647.67" y="567.52" width="4.80" height="4.80" fill="#fff" stroke="#000" stroke-width="1.2"/>
<path d="M396.40,670.30 L401.47,665.88 L411.62,649.82 L421.77,644.40 L431.91,634.16 L447.13,623.53 L472.50,609.47 L497.87,596.83 L523.23,582.97 L548.60,574.74 L599.33,559.69 L650.07,553.46" fill="none" stroke="#000" stroke-width="2.4" stroke-linejoin="round"/>
<path d="M396.40,665.80 L400.90,674.12 L391.90,674.12 Z" fill="#000"/>
<path d="M401.47,661.38 L405.97,669.71 L396.97,669.71 Z" fill="#000"/>
<path d="M411.62,645.32 L416.12,653.65 L407.12,653.65 Z" fill="#000"/>
<path d="M421.77,639.90 L426.27,648.23 L417.27,648.23 Z" fill="#000"/>
<path d="M431.91,629.66 L436.41,637.99 L427.41,637.99 Z" fill="#000"/>
<path d="M447.13,619.03 L451.63,627.35 L442.63,627.35 Z" fill="#000"/>
<path d="M472.50,604.97 L477.00,613.30 L468.00,613.30 Z" fill="#000"/>
<path d="M497.87,592.33 L502.37,600.65 L493.37,600.65 Z" fill="#000"/>
<path d="M523.23,578.47 L527.73,586.80 L518.73,586.80 Z" fill="#000"/>
<path d="M548.60,570.24 L553.10,578.57 L544.10,578.57 Z" fill="#000"/>
<path d="M599.33,555.19 L603.83,563.51 L594.83,563.51 Z" fill="#000"/>
<path d="M650.07,548.96 L654.57,557.29 L645.57,557.29 Z" fill="#000"/>
<path d="M396.40,670.30 L401.47,664.88 L411.62,645.21 L421.77,631.56 L431.91,622.12 L447.13,612.68 L472.50,596.42 L497.87,577.95 L523.23,565.91 L548.60,559.89 L599.33,549.45 L650.07,542.02" fill="none" stroke="#000" stroke-width="2.4" stroke-linejoin="round"/>
<path d="M396.40,666.30 L400.40,670.30 L396.40,674.30 L392.40,670.30 Z" fill="#000" stroke="#000" stroke-width="1.1"/>
<path d="M401.47,660.88 L405.47,664.88 L401.47,668.88 L397.47,664.88 Z" fill="#000" stroke="#000" stroke-width="1.1"/>
<path d="M411.62,641.21 L415.62,645.21 L411.62,649.21 L407.62,645.21 Z" fill="#000" stroke="#000" stroke-width="1.1"/>
<path d="M421.77,627.56 L425.77,631.56 L421.77,635.56 L417.77,631.56 Z" fill="#000" stroke="#000" stroke-width="1.1"/>
<path d="M431.91,618.12 L435.91,622.12 L431.91,626.12 L427.91,622.12 Z" fill="#000" stroke="#000" stroke-width="1.1"/>
<path d="M447.13,608.68 L451.13,612.68 L447.13,616.68 L443.13,612.68 Z" fill="#000" stroke="#000" stroke-width="1.1"/>
<path d="M472.50,592.42 L476.50,596.42 L472.50,600.42 L468.50,596.42 Z" fill="#000" stroke="#000" stroke-width="1.1"/>
<path d="M497.87,573.95 L501.87,577.95 L497.87,581.95 L493.87,577.95 Z" fill="#000" stroke="#000" stroke-width="1.1"/>
<path d="M523.23,561.91 L527.23,565.91 L523.23,569.91 L519.23,565.91 Z" fill="#000" stroke="#000" stroke-width="1.1"/>
<path d="M548.60,555.89 L552.60,559.89 L548.60,563.89 L544.60,559.89 Z" fill="#000" stroke="#000" stroke-width="1.1"/>
<path d="M599.33,545.45 L603.33,549.45 L599.33,553.45 L595.33,549.45 Z" fill="#000" stroke="#000" stroke-width="1.1"/>
<path d="M650.07,538.02 L654.07,542.02 L650.07,546.02 L646.07,542.02 Z" fill="#000" stroke="#000" stroke-width="1.1"/>
<line x1="424.5" y1="510.5" x2="461.8" y2="510.5" stroke="#000" stroke-width="2.6"/>
<path d="M443.10,506.50 L447.10,510.50 L443.10,514.50 L439.10,510.50 Z" fill="#000" stroke="#000" stroke-width="1.1"/>
<line x1="424.5" y1="527.6" x2="461.8" y2="527.6" stroke="#000" stroke-width="2.6"/>
<path d="M443.10,523.10 L447.60,531.43 L438.60,531.43 Z" fill="#000"/>
<line x1="424.5" y1="545.5" x2="461.8" y2="545.5" stroke="#000" stroke-width="2.6"/>
<rect x="440.70" y="543.10" width="4.80" height="4.80" fill="#fff" stroke="#000" stroke-width="1.2"/>
<text x="464.50" y="516.30" font-size="16.9" text-anchor="start" font-weight="normal" fill="#000" >T =25°C</text>
<text x="464.50" y="533.50" font-size="16.9" text-anchor="start" font-weight="normal" fill="#000" >T = 40°C</text>
<text x="464.50" y="551.50" font-size="16.9" text-anchor="start" font-weight="normal" fill="#000" >T =60°C</text>
<text x="609.50" y="518.50" font-size="14.5" text-anchor="middle" font-weight="bold" fill="#ff0000" font-family="Liberation Sans" style="font-family:Liberation Sans">(e)</text>
<text x="540.70" y="733.00" font-size="18" text-anchor="middle" font-weight="normal" fill="#000" >Ce (mg/L)</text>
<text x="0" y="0" font-size="18" text-anchor="middle" font-weight="bold" transform="translate(350.50,573.20) rotate(-90)">qt (mg/g)</text>
</svg>
</body></html>
